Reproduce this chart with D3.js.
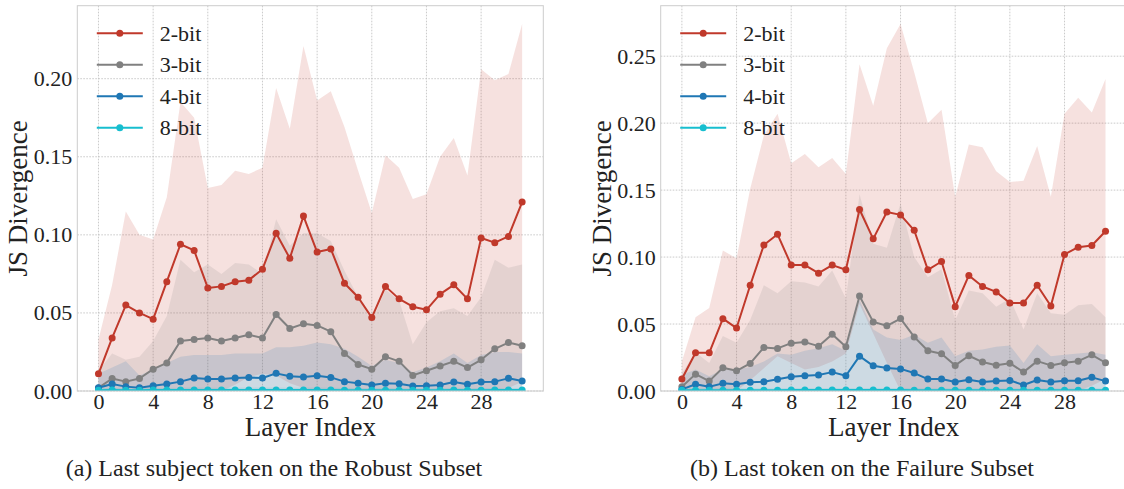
<!DOCTYPE html>
<html>
<head>
<meta charset="utf-8">
<script src="https://cdn.jsdelivr.net/npm/d3@7"></script>
<style>
  html, body { margin: 0; padding: 0; background: #fff; }
  svg { display: block; }
  text { font-family: "Liberation Serif", "Times New Roman", serif; fill: #222; }
</style>
</head>
<body>
<svg id="fig" width="1124" height="489"></svg>
<script>
// Layer indices shared by both panels
const layers = [0,1,2,3,4,5,6,7,8,9,10,11,12,13,14,15,16,17,18,19,20,21,22,23,24,25,26,27,28,29,30,31];
const xTicks = [0, 4, 8, 12, 16, 20, 24, 28];
const seriesNames = ["2-bit", "3-bit", "4-bit", "8-bit"];
const seriesColors = ["#c0392b", "#808080", "#1f77b4", "#17becf"];

// (a) Last subject token on the Robust Subset — mean JS divergence per layer
const robustMean2 = [0.011,0.034,0.055,0.050,0.046,0.070,0.094,0.090,0.066,0.067,0.070,0.071,0.078,0.101,0.085,0.112,0.089,0.091,0.069,0.060,0.047,0.067,0.059,0.054,0.052,0.062,0.068,0.059,0.098,0.095,0.099,0.121];
const robustMean3 = [0.002,0.008,0.006,0.008,0.014,0.018,0.032,0.033,0.034,0.032,0.034,0.036,0.034,0.049,0.040,0.043,0.042,0.038,0.024,0.017,0.014,0.022,0.019,0.010,0.013,0.016,0.019,0.015,0.020,0.027,0.031,0.029];
const robustMean4 = [0.0021,0.0045,0.0028,0.0021,0.0034,0.0045,0.0060,0.0083,0.0077,0.0077,0.0083,0.0087,0.0083,0.0113,0.0094,0.0090,0.0098,0.0087,0.0060,0.0049,0.0038,0.0049,0.0047,0.0032,0.0034,0.0038,0.0058,0.0043,0.0058,0.0060,0.0081,0.0064];
const robustMean8 = [0.0005,0.0006,0.0005,0.0005,0.0006,0.0006,0.0006,0.0007,0.0006,0.0006,0.0006,0.0007,0.0006,0.0007,0.0006,0.0006,0.0007,0.0006,0.0005,0.0005,0.0005,0.0005,0.0005,0.0005,0.0005,0.0005,0.0006,0.0005,0.0005,0.0006,0.0006,0.0006];
// spread bands (lower / upper) per layer
const robustLow2  = [0,0,0,0,0,0,0,0,0,0,0.004,0.009,0.011,0.010,0.005,0.002,0,0,0,0,0,0,0,0,0,0,0,0,0,0,0.002,0.006];
const robustHigh2 = [0.033,0.068,0.115,0.100,0.097,0.124,0.185,0.175,0.130,0.132,0.141,0.139,0.143,0.194,0.168,0.221,0.186,0.192,0.169,0.141,0.114,0.151,0.143,0.123,0.126,0.150,0.162,0.138,0.206,0.199,0.203,0.235];
const robustLow3  = [0,0,0,0,0,0,0,0,0,0,0,0,0,0,0,0,0,0,0,0,0,0,0,0,0,0,0,0,0,0,0,0];
const robustHigh3 = [0.013,0.024,0.020,0.022,0.032,0.048,0.084,0.076,0.081,0.075,0.082,0.081,0.075,0.110,0.093,0.101,0.101,0.096,0.077,0.060,0.044,0.065,0.058,0.030,0.044,0.051,0.053,0.048,0.060,0.084,0.079,0.081];
const robustLow4  = [0,0,0,0,0,0,0,0,0,0,0,0,0,0,0,0,0,0,0,0,0,0,0,0,0,0,0,0,0,0,0,0];
const robustHigh4 = [0.011,0.015,0.019,0.010,0.014,0.018,0.022,0.023,0.023,0.023,0.024,0.024,0.024,0.028,0.028,0.029,0.031,0.030,0.027,0.022,0.016,0.020,0.018,0.012,0.015,0.019,0.024,0.018,0.023,0.025,0.025,0.024];
const robustLow8  = [0,0,0,0,0,0,0,0,0,0,0,0,0,0,0,0,0,0,0,0,0,0,0,0,0,0,0,0,0,0,0,0];
const robustHigh8 = [0.0018,0.0020,0.0018,0.0018,0.0020,0.0020,0.0021,0.0022,0.0021,0.0021,0.0021,0.0022,0.0021,0.0022,0.0021,0.0021,0.0022,0.0021,0.0019,0.0019,0.0018,0.0019,0.0018,0.0018,0.0018,0.0018,0.0020,0.0018,0.0019,0.0020,0.0020,0.0020];

// (b) Last token on the Failure Subset — mean JS divergence per layer
const failureMean2 = [0.009,0.0285,0.0285,0.054,0.047,0.079,0.109,0.117,0.094,0.094,0.088,0.094,0.0905,0.1355,0.1136,0.1336,0.1315,0.120,0.0905,0.0967,0.063,0.0863,0.078,0.074,0.0657,0.0657,0.079,0.0635,0.102,0.1074,0.1086,0.1193];
const failureMean3 = [0.0032,0.0126,0.0074,0.0174,0.0151,0.0206,0.0325,0.0318,0.0357,0.0365,0.0335,0.0424,0.033,0.0709,0.0516,0.0487,0.0541,0.0404,0.030,0.0278,0.0191,0.0263,0.0216,0.0193,0.0208,0.0141,0.0223,0.0191,0.0211,0.0223,0.027,0.0211];
const failureMean4 = [0.0012,0.005,0.0032,0.0057,0.005,0.0065,0.0069,0.0087,0.0107,0.0114,0.0119,0.0141,0.0114,0.026,0.0188,0.0171,0.0165,0.0134,0.0089,0.0089,0.0067,0.0084,0.0067,0.0074,0.0079,0.0045,0.0082,0.0067,0.0077,0.0077,0.0102,0.0074];
const failureMean8 = [0.0005,0.0006,0.0005,0.0006,0.0006,0.0006,0.0006,0.0006,0.0007,0.0007,0.0007,0.0007,0.0007,0.0008,0.0007,0.0007,0.0007,0.0006,0.0006,0.0006,0.0005,0.0006,0.0005,0.0005,0.0005,0.0005,0.0006,0.0005,0.0005,0.0006,0.0006,0.0006];
const failureLow2  = [0,0,0,0,0,0.008,0.017,0.026,0.021,0.016,0.018,0.022,0.028,0.065,0.043,0.021,0,0,0,0,0,0,0,0,0,0,0,0,0,0,0.004,0.009];
const failureHigh2 = [0.022,0.055,0.062,0.105,0.099,0.151,0.191,0.207,0.170,0.177,0.167,0.174,0.162,0.244,0.213,0.256,0.274,0.238,0.200,0.210,0.145,0.184,0.182,0.164,0.156,0.157,0.183,0.145,0.207,0.219,0.208,0.233];
const failureLow3  = [0,0,0,0,0,0,0,0,0,0,0,0,0,0,0,0,0,0,0,0,0,0,0,0,0,0,0,0,0,0,0,0];
const failureHigh3 = [0.013,0.029,0.021,0.041,0.036,0.053,0.079,0.073,0.082,0.081,0.078,0.090,0.069,0.147,0.110,0.107,0.140,0.100,0.085,0.091,0.053,0.075,0.073,0.063,0.069,0.046,0.073,0.058,0.057,0.064,0.065,0.055];
const failureLow4  = [0,0,0,0,0,0,0,0,0,0,0,0,0,0,0,0,0,0,0,0,0,0,0,0,0,0,0,0,0,0,0,0];
const failureHigh4 = [0.012,0.016,0.011,0.016,0.016,0.018,0.022,0.028,0.027,0.030,0.032,0.035,0.030,0.068,0.046,0.040,0.038,0.042,0.036,0.040,0.026,0.030,0.031,0.033,0.034,0.021,0.035,0.026,0.027,0.028,0.029,0.027];
const failureLow8  = [0,0,0,0,0,0,0,0,0,0,0,0,0,0,0,0,0,0,0,0,0,0,0,0,0,0,0,0,0,0,0,0];
const failureHigh8 = [0.0020,0.0021,0.0020,0.0021,0.0021,0.0021,0.0021,0.0021,0.0022,0.0022,0.0022,0.0022,0.0022,0.0023,0.0022,0.0022,0.0022,0.0021,0.0021,0.0021,0.0020,0.0021,0.0020,0.0020,0.0020,0.0020,0.0021,0.0020,0.0020,0.0021,0.0021,0.0021];

const robustYTicks = [0, 0.05, 0.10, 0.15, 0.20];
const failureYTicks = [0, 0.05, 0.10, 0.15, 0.20, 0.25];

const panels = [
  {
    caption: "(a) Last subject token on the Robust Subset",
    left: 77.3, right: 543.3, captionX: 274,
    means: [robustMean2, robustMean3, robustMean4, robustMean8],
    lows: [robustLow2, robustLow3, robustLow4, robustLow8],
    highs: [robustHigh2, robustHigh3, robustHigh4, robustHigh8],
    yTicks: robustYTicks
  },
  {
    caption: "(b) Last token on the Failure Subset",
    left: 660.7, right: 1126.7, captionX: 862,
    means: [failureMean2, failureMean3, failureMean4, failureMean8],
    lows: [failureLow2, failureLow3, failureLow4, failureLow8],
    highs: [failureHigh2, failureHigh3, failureHigh4, failureHigh8],
    yTicks: failureYTicks
  }
];

const svg = d3.select("#fig");
const plotTop = 5.7, plotBottom = 391;

panels.forEach((p, pi) => {
  const g = svg.append("g");
  const clipId = "clip" + pi;
  svg.append("defs").append("clipPath").attr("id", clipId)
    .append("rect").attr("x", p.left).attr("y", plotTop)
    .attr("width", p.right - p.left).attr("height", plotBottom - plotTop);

  const x = d3.scaleLinear().domain([-1.55, 32.55]).range([p.left, p.right]);
  const yMax = d3.max(p.highs[0]) * 1.05;
  const y = d3.scaleLinear().domain([0, yMax]).range([plotBottom, plotTop]);

  // grid
  const grid = g.append("g");
  grid.selectAll("line.gx").data(xTicks).join("line")
    .attr("x1", d => x(d)).attr("x2", d => x(d))
    .attr("y1", plotTop).attr("y2", plotBottom)
    .attr("stroke", "#c4c4c4").attr("stroke-width", 0.9)
    .attr("stroke-dasharray", "1.6,1.4");
  grid.selectAll("line.gy").data(p.yTicks).join("line")
    .attr("x1", p.left).attr("x2", p.right)
    .attr("y1", d => y(d)).attr("y2", d => y(d))
    .attr("stroke", "#c4c4c4").attr("stroke-width", 0.9)
    .attr("stroke-dasharray", "1.6,1.4");

  const plot = g.append("g").attr("clip-path", `url(#${clipId})`);

  // spread bands
  p.means.forEach((m, si) => {
    const area = d3.area()
      .x((d, i) => x(layers[i]))
      .y0((d, i) => y(p.lows[si][i]))
      .y1((d, i) => y(p.highs[si][i]));
    plot.append("path").datum(m)
      .attr("d", area)
      .attr("fill", seriesColors[si])
      .attr("fill-opacity", 0.15);
  });

  // mean lines with markers
  p.means.forEach((m, si) => {
    const line = d3.line().x((d, i) => x(layers[i])).y(d => y(d));
    plot.append("path").datum(m)
      .attr("d", line)
      .attr("fill", "none")
      .attr("stroke", seriesColors[si])
      .attr("stroke-width", 2)
      .attr("stroke-linejoin", "round");
    plot.selectAll(null).data(m).join("circle")
      .attr("cx", (d, i) => x(layers[i]))
      .attr("cy", d => y(d))
      .attr("r", 3.5)
      .attr("fill", seriesColors[si]);
  });

  // frame
  g.append("rect")
    .attr("x", p.left).attr("y", plotTop)
    .attr("width", p.right - p.left).attr("height", plotBottom - plotTop)
    .attr("fill", "none").attr("stroke", "#cccccc").attr("stroke-width", 1);

  // axes (labels only)
  const xAxis = d3.axisBottom(x).tickValues(xTicks).tickSize(0).tickPadding(2);
  const xg = g.append("g").attr("transform", `translate(0,${plotBottom})`).call(xAxis);
  const yAxis = d3.axisLeft(y).tickValues(p.yTicks).tickFormat(d3.format(".2f")).tickSize(0).tickPadding(5);
  const yg = g.append("g").attr("transform", `translate(${p.left},0)`).call(yAxis);
  [xg, yg].forEach(a => {
    a.select(".domain").remove();
    a.selectAll("text")
      .attr("font-family", "Liberation Serif, Times New Roman, serif")
      .attr("font-size", 22).attr("fill", "#222");
  });

  // axis titles
  g.append("text")
    .attr("x", (p.left + p.right) / 2).attr("y", 436)
    .attr("text-anchor", "middle").attr("font-size", 27)
    .text("Layer Index");
  g.append("text")
    .attr("transform", `translate(${p.left - 50},${(plotTop + plotBottom) / 2}) rotate(-90)`)
    .attr("text-anchor", "middle").attr("font-size", 27)
    .text("JS Divergence");

  // caption
  g.append("text")
    .attr("x", p.captionX).attr("y", 476)
    .attr("text-anchor", "middle").attr("font-size", 24)
    .text(p.caption);

  // legend
  const lg = g.append("g");
  seriesNames.forEach((name, si) => {
    const ry = 33.3 + si * 31.5;
    const lx = p.left + 19.5;
    lg.append("line")
      .attr("x1", lx).attr("x2", lx + 46)
      .attr("y1", ry).attr("y2", ry)
      .attr("stroke", seriesColors[si]).attr("stroke-width", 2);
    lg.append("circle")
      .attr("cx", lx + 23).attr("cy", ry).attr("r", 3.5)
      .attr("fill", seriesColors[si]);
    lg.append("text")
      .attr("x", lx + 63).attr("y", ry + 7.5)
      .attr("font-size", 22)
      .text(name);
  });
});
</script>
</body>
</html>
